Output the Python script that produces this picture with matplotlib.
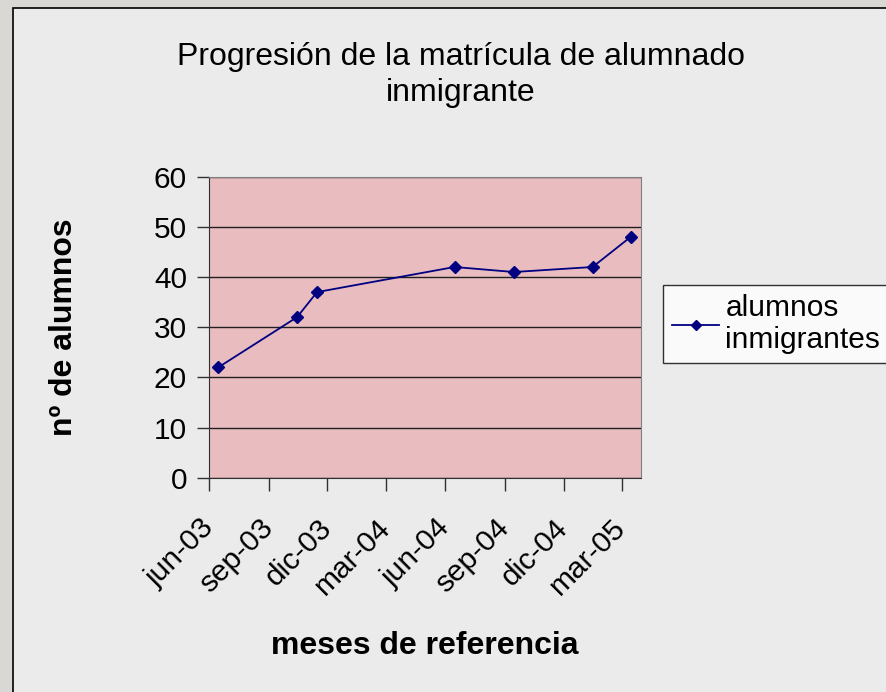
import matplotlib
matplotlib.use('Agg')
import matplotlib.pyplot as plt
import matplotlib.transforms as mtransforms
from matplotlib.patches import Rectangle
import pandas as pd

# ---- data ----
fechas = ['2003-06-15', '2003-10-15', '2003-11-15', '2004-06-15',
          '2004-09-15', '2005-01-15', '2005-03-15']
alumnos = [22, 32, 37, 42, 41, 42, 48]
meses_ticks = ['2003-06-01', '2003-09-01', '2003-12-01', '2004-03-01',
               '2004-06-01', '2004-09-01', '2004-12-01', '2005-03-01']
meses_labels = ['jun-03', 'sep-03', 'dic-03', 'mar-04',
                'jun-04', 'sep-04', 'dic-04', 'mar-05']
y_ticks = [0, 10, 20, 30, 40, 50, 60]

plt.rcParams['font.family'] = ['Liberation Sans', 'DejaVu Sans']

fig = plt.figure(figsize=(8.87, 6.92), dpi=100)
fig.patch.set_facecolor('#dad8d4')

# chart area box
W, H = 887, 692
fig.patches.append(Rectangle((13 / W, -0.01), 1.0, 1 - 8 / H + 0.01,
                             transform=fig.transFigure, facecolor='#ebebeb',
                             edgecolor='black', linewidth=1.2, zorder=-5))

ax = fig.add_axes([209.3 / W, 1 - 477.7 / H, (641 - 209.3) / W, (477.7 - 176.7) / H])
ax.set_facecolor('#e9bcc0')

x = pd.to_datetime(fechas)
ax.plot(x, alumnos, color='#000080', linewidth=1.3, marker='D', markersize=6,
        label='alumnos\ninmigrantes', zorder=3)

ax.set_ylim(0, 60)
ax.set_yticks(y_ticks)
ax.set_xlim(pd.Timestamp('2003-06-01'), pd.Timestamp('2005-03-31'))
ax.set_xticks(pd.to_datetime(meses_ticks))
ax.set_xticklabels(meses_labels, rotation=45, ha='right', va='center',
                   rotation_mode='anchor')
# nudge the slanted month labels a little left, like Excel places them
shift = mtransforms.ScaledTranslation(-6 / 100, -3 / 100, fig.dpi_scale_trans)
for lbl in ax.get_xticklabels():
    lbl.set_transform(lbl.get_transform() + shift)
ax.yaxis.grid(True, color='#202020', linewidth=1.0)
ax.set_axisbelow(True)

for s in ['top', 'right']:
    ax.spines[s].set_color('#808080')
for s in ['left', 'bottom']:
    ax.spines[s].set_color('#303030')
ax.tick_params(axis='both', direction='out', length=9, width=1, color='#303030',
               labelsize=21.5)
ax.tick_params(axis='x', pad=24)
ax.tick_params(axis='y', pad=7)

ax.set_ylabel('nº de alumnos', fontsize=23, fontweight='bold')
ax.yaxis.set_label_coords(-(209.3 - 64) / (641 - 209.3), 0.5)
ax.set_xlabel('meses de referencia', fontsize=23, fontweight='bold')
ax.xaxis.set_label_coords(0.5, -(646 - 477.7) / (477.7 - 176.7))
ax.xaxis.label.set_va('center')
ax.yaxis.label.set_va('center')

fig.text(461 / W, 1 - 75 / H, 'Progresión de la matrícula de alumnado\ninmigrante',
         ha='center', va='center', fontsize=23, linespacing=1.25)

leg = fig.legend(loc='upper left', bbox_to_anchor=(662.7 / W, 1 - 285 / H),
                 fontsize=21.5, frameon=True, fancybox=False, handlelength=1.6,
                 handletextpad=0.2, borderaxespad=0, borderpad=0.3, labelspacing=0,
                 markerscale=0.8)
leg.get_frame().set_edgecolor('black')
leg.get_frame().set_facecolor('white')
leg.get_frame().set_linewidth(1.0)

fig.savefig('out.png', dpi=100, facecolor=fig.get_facecolor())
